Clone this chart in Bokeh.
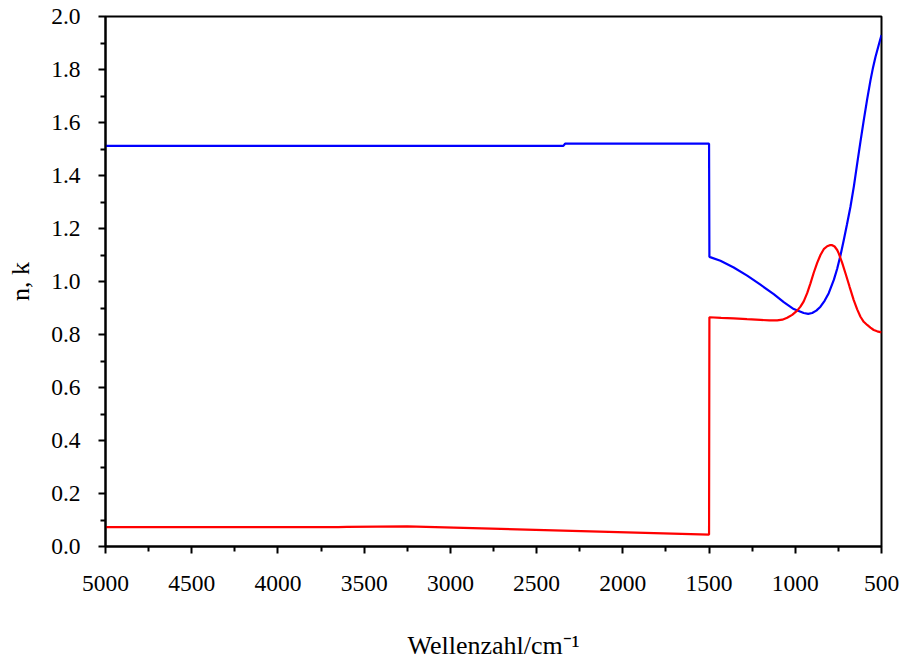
from bokeh.plotting import figure
from bokeh.models import FixedTicker, Range1d, NumeralTickFormatter
from bokeh.embed import file_html
from bokeh.resources import INLINE

# Refractive index n (blue) and extinction coefficient k (red) vs wavenumber
n_wavenumber = [5000, 2345, 2335, 1500, 1498, 1434, 1357, 1279, 1202, 1125, 1067, 1009, 951,
                925, 902, 878, 854, 830, 806, 796, 776, 757, 738, 719, 700, 680, 660, 641,
                622, 603, 583, 564, 549, 535, 515, 500]
n_values = [1.512, 1.512, 1.520, 1.520, 1.093, 1.078, 1.053, 1.022, 0.988, 0.952, 0.922, 0.896,
            0.881, 0.878, 0.881, 0.890, 0.905, 0.927, 0.956, 0.973, 1.007, 1.048, 1.098, 1.156,
            1.216, 1.282, 1.360, 1.445, 1.528, 1.608, 1.688, 1.759, 1.808, 1.847, 1.895, 1.930]

k_wavenumber = [5000, 3650, 3600, 3250, 1500, 1498, 1430, 1357, 1280, 1202, 1150, 1105, 1075,
                1047, 1018, 989, 970, 951, 931, 912, 893, 873, 854, 835, 815, 800, 786, 772,
                757, 748, 728, 709, 685, 661, 641, 622, 603, 583, 564, 545, 525, 500]
k_values = [0.073, 0.073, 0.074, 0.076, 0.045, 0.865, 0.863, 0.861, 0.858, 0.855, 0.853, 0.853,
            0.856, 0.863, 0.874, 0.890, 0.905, 0.925, 0.956, 0.993, 1.033, 1.070, 1.100, 1.122,
            1.133, 1.137, 1.137, 1.132, 1.119, 1.106, 1.070, 1.031, 0.980, 0.930, 0.895, 0.867,
            0.848, 0.836, 0.826, 0.817, 0.812, 0.808]

x_ticks = [5000, 4500, 4000, 3500, 3000, 2500, 2000, 1500, 1000, 500]
x_minor = [4750, 4250, 3750, 3250, 2750, 2250, 1750, 1250, 750]
y_ticks = [0.0, 0.2, 0.4, 0.6, 0.8, 1.0, 1.2, 1.4, 1.6, 1.8, 2.0]
y_minor = [0.1, 0.3, 0.5, 0.7, 0.9, 1.1, 1.3, 1.5, 1.7, 1.9]

FONT = "Liberation Serif"

p = figure(width=903, height=662, output_backend="svg", toolbar_location=None,
           x_range=Range1d(5000, 500), y_range=Range1d(0, 2.0),
           min_border_left=105, min_border_right=22, min_border_top=16, min_border_bottom=115)
p.background_fill_color = "white"
p.border_fill_color = "white"
p.outline_line_color = "black"
p.outline_line_width = 2
p.grid.visible = False

p.line(n_wavenumber, n_values, line_color="#0000ff", line_width=2.2)
p.line(k_wavenumber, k_values, line_color="#ff0000", line_width=2.2)

p.xaxis.ticker = FixedTicker(ticks=x_ticks, minor_ticks=x_minor)
p.yaxis.ticker = FixedTicker(ticks=y_ticks, minor_ticks=y_minor)
p.yaxis.formatter = NumeralTickFormatter(format="0.0")
p.xaxis.formatter = NumeralTickFormatter(format="0")

for ax in (p.xaxis, p.yaxis):
    ax.axis_line_color = "black"
    ax.axis_line_width = 2
    ax.major_tick_line_color = "black"
    ax.major_tick_line_width = 2
    ax.minor_tick_line_color = "black"
    ax.minor_tick_line_width = 2
    ax.major_tick_out = 7
    ax.major_tick_in = 0
    ax.minor_tick_out = 5
    ax.minor_tick_in = 0
    ax.major_label_text_font = FONT
    ax.major_label_text_font_size = "23.5px"
    ax.major_label_text_color = "black"
    ax.axis_label_text_font = FONT
    ax.axis_label_text_font_size = "26px"
    ax.axis_label_text_font_style = "normal"
    ax.axis_label_text_color = "black"

p.xaxis.axis_label = "Wellenzahl/cm\u207b\u00b9"
p.yaxis.axis_label = "n, k"
p.xaxis.major_label_standoff = 22
p.xaxis.axis_label_standoff = 37
p.yaxis.major_label_standoff = 18
p.yaxis.axis_label_standoff = 13

open("out.html", "w").write(file_html(p, INLINE))
